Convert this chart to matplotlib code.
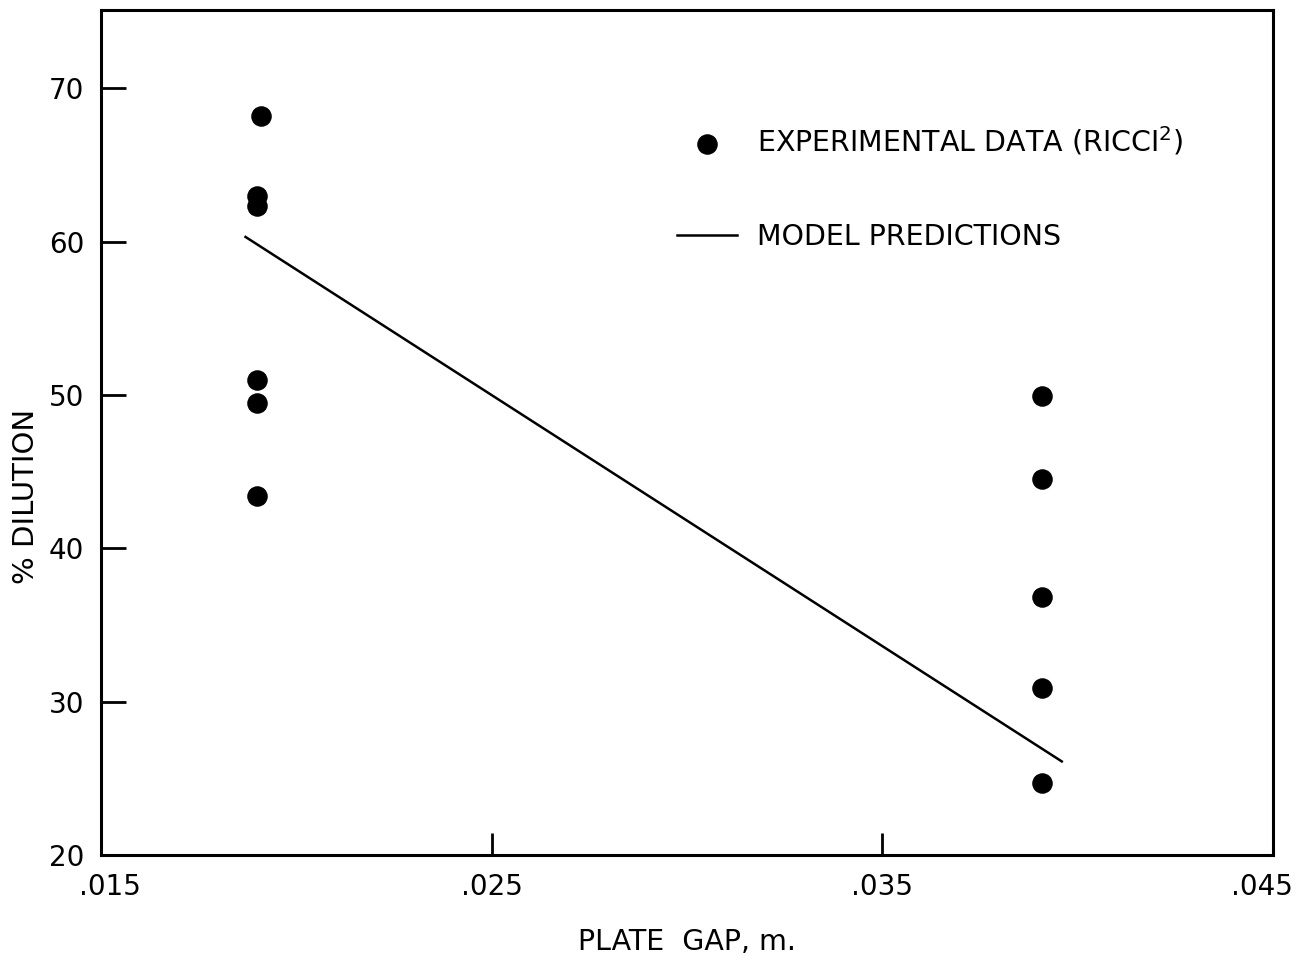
import numpy as np
import matplotlib
matplotlib.use("Agg")
import matplotlib.pyplot as plt
import matplotlib.transforms as mtransforms

gap_exp = [0.0191, 0.019, 0.019, 0.019, 0.019, 0.019,
           0.0391, 0.0391, 0.0391, 0.0391, 0.0391]
dil_exp = [68.2, 63.0, 62.3, 51.0, 49.5, 43.4,
           49.9, 44.5, 36.8, 30.9, 24.7]

# model prediction line end points
gap_model = [0.0187, 0.0396]
dil_model = [60.3, 26.1]

xticks = [0.015, 0.025, 0.035, 0.045]
xtick_labels = ['.015', '.025', '.035', '.045']
yticks = [20, 30, 40, 50, 60, 70]

plt.rcParams['font.family'] = 'DejaVu Sans'

fig = plt.figure(figsize=(13, 9.57), dpi=100)
ax = fig.add_axes([0.0777, 0.1066, 0.9013, 0.883])

ax.plot(gap_model, dil_model, color='black', lw=1.8, label='MODEL PREDICTIONS')
ax.scatter(gap_exp, dil_exp, s=190, color='black', zorder=3,
           label='EXPERIMENTAL DATA (RICCI$^{2}$)')

ax.set_xlim(0.015, 0.045)
ax.set_ylim(20, 75.1)
ax.set_xticks(xticks)
ax.set_xticklabels(xtick_labels)
ax.set_yticks(yticks)

for s in ax.spines.values():
    s.set_linewidth(2.2)
ax.tick_params(axis='both', direction='in', width=2, labelsize=20)
ax.tick_params(axis='x', length=16, pad=13)
ax.tick_params(axis='y', length=18, pad=12)

# end labels sit a little inside the frame in the original
xlabs = ax.get_xticklabels()
xlabs[0].set_transform(xlabs[0].get_transform() +
                       mtransforms.ScaledTranslation(0.09, 0, fig.dpi_scale_trans))
xlabs[-1].set_transform(xlabs[-1].get_transform() +
                        mtransforms.ScaledTranslation(-0.11, 0, fig.dpi_scale_trans))

ax.set_xlabel('PLATE  GAP, m.', fontsize=20.5)
ax.set_ylabel('% DILUTION', fontsize=21)
ax.xaxis.set_label_coords(0.5, -0.086)
ax.yaxis.set_label_coords(-0.052, 0.424)

# legend: dots first, then line
handles, labels = ax.get_legend_handles_labels()
leg = ax.legend(handles[::-1], labels[::-1], loc='upper left',
                bbox_to_anchor=(0.47, 0.895), frameon=False, fontsize=20.5,
                handlelength=2.1, handletextpad=0.7, labelspacing=2.3,
                scatterpoints=1)

plt.savefig('out.png', dpi=100)
